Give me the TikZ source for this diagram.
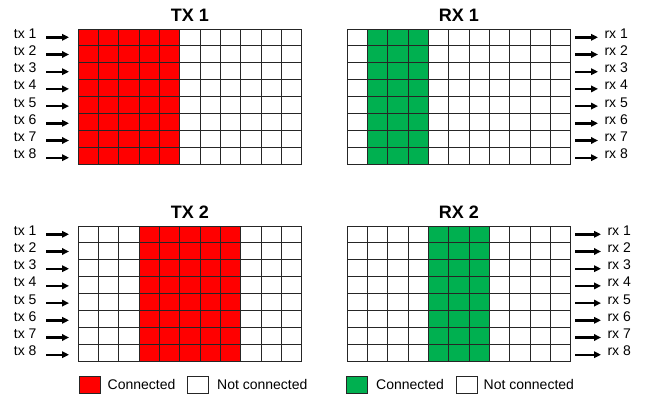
\documentclass[tikz,border=0pt]{standalone}
\usepackage{fontspec}
\setmainfont{Liberation Sans}
\usepackage{tikz}
\usetikzlibrary{arrows.meta,positioning,calc}
\definecolor{conred}{RGB}{255,0,0}
\definecolor{congreen}{RGB}{0,176,80}

\begin{document}
\begin{tikzpicture}[x=1pt,y=1pt,font=\fontsize{14}{16}\selectfont]
\tikzset{cell/.style={black!85,line width=1pt}}
\tikzset{arr/.style={-{Triangle[length=7pt,width=6.5pt]},line width=2.4pt}}
\tikzset{ttl/.style={font=\fontsize{18}{20}\selectfont\bfseries}}
\tikzset{swatch/.style={draw=black!85,line width=1pt,minimum width=21pt,minimum height=17pt,inner sep=0pt}}
\tikzset{keytxt/.style={inner sep=2pt}}
\useasboundingbox (0,0) rectangle (646,-399);
\def\cw{20.36} \def\rh{16.875}
% panels: name / left / top / connected columns / colour / title
\foreach \pn/\px/\py/\ca/\cb/\col/\ttl in {tx1/78/29/1/5/conred/TX 1, rx1/347/29/2/4/congreen/RX 1,
    tx2/78/226/4/8/conred/TX 2, rx2/347/226/5/7/congreen/RX 2} {
  \fill[\col] ({\px+(\ca-1)*\cw},-\py) rectangle ({\px+\cb*\cw},{-\py-8*\rh});
  \foreach \c in {0,...,11} \draw[cell] ({\px+\c*\cw},-\py) -- ({\px+\c*\cw},{-\py-8*\rh});
  \foreach \r in {0,...,8} \draw[cell] (\px,{-\py-\r*\rh}) -- ({\px+11*\cw},{-\py-\r*\rh});
  \node[ttl] (\pn-title) at ({\px+5.5*\cw},{-\py+14}) {\ttl};
}
% inputs
\foreach \pn/\py in {tx1/29, tx2/226} \foreach \i in {1,...,8} {
  \coordinate (\pn-in\i) at (69,{-\py-8.3-17.2*(\i-1)});
  \node[anchor=base east] (\pn-l\i) at ($(\pn-in\i)+(-29,-1)$) {tx \i};
  \draw[arr] ($(\pn-l\i.east |- \pn-in\i)+(6,0)$) -- (\pn-in\i);
}
% outputs
\foreach \pn/\py/\lx in {rx1/29/601, rx2/226/604} \foreach \i in {1,...,8} {
  \coordinate (\pn-out\i) at (575,{-\py-8.3-17.2*(\i-1)});
  \node[anchor=base west] (\pn-l\i) at (\lx,{-\py-9.3-17.2*(\i-1)}) {rx \i};
  \draw[arr] (\pn-out\i) -- ($(\pn-l\i.west |- \pn-out\i)+(-3,0)$);
}
% legend
\node[swatch,fill=conred] (key-tx-on) at (89.5,-384.5) {};
\node[keytxt,right=5pt of key-tx-on] (key-tx-on-txt) {Connected};
\node[swatch,fill=white] (key-tx-off) at (198,-384.5) {};
\node[keytxt,right=6pt of key-tx-off] (key-tx-off-txt) {Not connected};
\node[swatch,fill=congreen] (key-rx-on) at (357,-384.5) {};
\node[keytxt,right=6pt of key-rx-on] (key-rx-on-txt) {Connected};
\node[swatch,fill=white] (key-rx-off) at (466.5,-384.5) {};
\node[keytxt,right=4pt of key-rx-off] (key-rx-off-txt) {Not connected};
\end{tikzpicture}
\end{document}
